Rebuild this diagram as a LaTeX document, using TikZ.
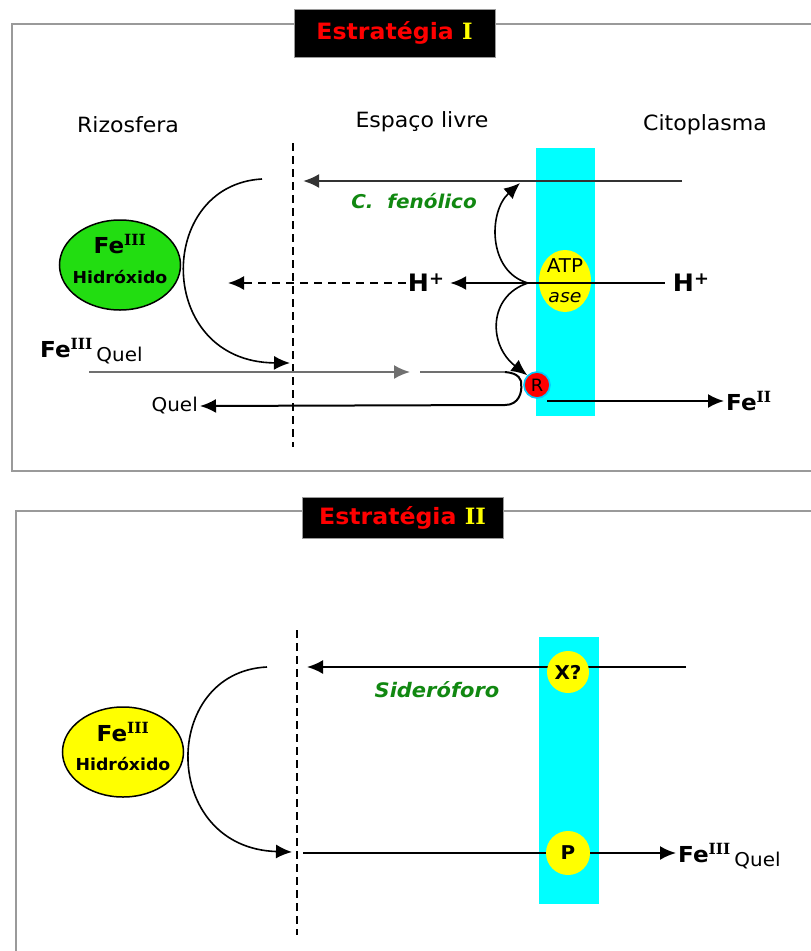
\documentclass[tikz,border=0pt]{standalone}
\usepackage{fontspec}
\setmainfont{DejaVu Sans}[FakeStretch=1.05]
\newfontfamily\romfont{DejaVu Serif}
\usepackage{xcolor}
\definecolor{Membrane}{HTML}{00FFFF}
\definecolor{HydroxGreen}{HTML}{22DD11}
\definecolor{PumpYellow}{HTML}{FFFF00}
\definecolor{LabelGreen}{HTML}{118811}
\definecolor{FrameGray}{HTML}{9A9A9A}
\definecolor{ChelGray}{HTML}{707070}
\definecolor{TitleRed}{HTML}{FF0000}
\usepackage{tikz}
\usetikzlibrary{arrows.meta,positioning,shapes.geometric}
\newcommand\romsup[1]{\textsuperscript{\romfont\bfseries #1}}

\begin{document}
\begin{tikzpicture}[x=1pt,y=-1pt,font=\fontsize{21}{24}\selectfont]
\tikzset{
  panel/.style={draw=FrameGray,line width=2pt},
  titlebox/.style={fill=black,draw=FrameGray,line width=.8pt,minimum width=201pt,inner sep=0pt,
    text=TitleRed,font=\fontsize{22.5}{26}\selectfont\bfseries},
  zone/.style={font=\fontsize{21}{24}\selectfont},
  wall/.style={line width=2.2pt,dash pattern=on 8pt off 5pt},
  membrane/.style={fill=Membrane,inner sep=0pt},
  hydrox/.style={ellipse,draw=black,line width=1.5pt,minimum width=121pt,minimum height=90pt,inner sep=0pt},
  pump/.style={ellipse,fill=PumpYellow,minimum width=52pt,minimum height=62pt,inner sep=0pt},
  carrier/.style={circle,fill=PumpYellow,inner sep=0pt,font=\fontsize{19}{21}\selectfont\bfseries},
  flow/.style={line width=2pt,-{Latex[length=16pt,width=14pt]}},
  link/.style={line width=2pt},
  ion/.style={font=\fontsize{24}{27}\selectfont\bfseries,inner sep=2pt},
  metab/.style={text=LabelGreen,font=\fontsize{19}{22}\selectfont\bfseries\itshape},
  chel/.style={font=\fontsize{19}{22}\selectfont,inner sep=2pt}
}
\useasboundingbox (0,0) rectangle (811,951);

% ---------------- Estrategia I ----------------
\draw[panel] (811,24) -- (12,24) -- (12,471) -- (811,471);
\node[titlebox,minimum height=48pt] (title1) at (394.5,33) {Estratégia\ {\romfont\color{PumpYellow}I}};

\node[zone] (rizo1) at (128,125) {Rizosfera};
\node[zone] (free1) at (422,122) {Espaço livre};
\node[zone] (cyto1) at (705,125) {Citoplasma};

\node[membrane,minimum width=59pt,minimum height=268pt] (mem1) at (565.5,282) {};
\draw[wall] (293,143) -- (293,447);

\node[hydrox,fill=HydroxGreen] (hyd1) at (120,265) {};
\node[font=\fontsize{22}{24}\selectfont\bfseries] (hyd1fe) at (120,244) {Fe\romsup{III}};
\node[font=\fontsize{16.5}{18}\selectfont\bfseries] (hyd1txt) at (120,277) {Hidróxido};

% reduction of the hydroxide towards the wall
\coordinate (arcS1) at (262,179);
\coordinate (arcE1) at (290,363);
\draw[flow,line width=1.6pt] (arcS1) .. controls (155,185) and (155,362) .. (arcE1);

% phenolic compounds
\coordinate (fenR) at (682,181);
\coordinate (fenL) at (303,181);
\draw[flow,draw=black!80,line width=2.4pt] (fenR) -- (fenL);
\node[metab] (fen1) at (414,201) {C.\ \ fenólico};

% proton pump
\node[pump] (atp) at (565,281) {};
\node[font=\fontsize{19}{21}\selectfont] (atptop) at (565,266) {ATP};
\node[font=\fontsize{18}{20}\selectfont\itshape] (atpbot) at (565,298) {ase};
\node[ion] (hR) at (691,283) {H\raisebox{.55ex}{\fontsize{17}{17}\selectfont+}};
\node[ion] (hL) at (426,283) {H\raisebox{.55ex}{\fontsize{17}{17}\selectfont+}};
\draw[flow] ([xshift=-6pt]hR.west) -- ([xshift=4pt]hL.east);
\coordinate (hOut) at (228,283);
\draw[flow,dash pattern=on 8pt off 6pt] (hL.west) -- (hOut);

% reductase
\node[circle,fill=red,draw=Membrane!80!blue,line width=1.6pt,minimum size=26pt,inner sep=0pt,
  font=\fontsize{17}{19}\selectfont] (rec) at (537,385) {R};
\coordinate (pump) at (528,283);
\coordinate (fenTap) at (520,183);
\draw[flow,line width=1.6pt] (pump) .. controls (488,272) and (488,212) .. (fenTap);
\draw[flow,line width=1.6pt] (pump) .. controls (488,296) and (488,345) .. (rec.135);

% chelate in, chelator out
\node[anchor=base west,inner sep=0pt] (feq1) at (40,357)
  {\fontsize{22}{24}\selectfont\bfseries Fe\romsup{III}\,{\fontsize{19}{22}\selectfont\mdseries\raisebox{-4pt}{Quel}}};
\coordinate (qIn) at (89,372);
\coordinate (qMid) at (410,372);
\draw[flow,ChelGray] (qIn) -- (qMid);
\coordinate (qLoop) at (420,372);
\coordinate (loopTop) at (505,372);
\coordinate (loopBot) at (505,405);
\draw[link,ChelGray] (qLoop) -- (loopTop);
\node[chel,anchor=east] (quel1) at (200,406) {Quel};
\draw[link] (loopTop) .. controls (519,373) and (522,380) .. ([xshift=-2pt]rec.west)
  .. controls (522,392) and (519,405) .. (loopBot);
\draw[flow] (loopBot) -- (quel1.east);

\node[ion,anchor=west,font=\fontsize{22}{26}\selectfont\bfseries] (fe2) at (724,401) {Fe\romsup{II}};
\coordinate (recOut) at (547,401);
\draw[flow] (recOut) -- (fe2.west);

% ---------------- Estrategia II ----------------
\draw[panel] (811,511) -- (16,511) -- (16,951);
\node[titlebox,minimum height=41pt] (title2) at (402.5,517.5) {Estratégia\ {\romfont\color{PumpYellow}II}};

\node[membrane,minimum width=60pt,minimum height=267pt] (mem2) at (569,770.5) {};
\draw[wall] (297,630) -- (297,935);

\node[hydrox,fill=PumpYellow] (hyd2) at (123,752) {};
\node[font=\fontsize{22}{24}\selectfont\bfseries] (hyd2fe) at (123,732) {Fe\romsup{III}};
\node[font=\fontsize{16.5}{18}\selectfont\bfseries] (hyd2txt) at (123,764) {Hidróxido};

\coordinate (arcS2) at (267,667);
\coordinate (arcE2) at (292,852);
\draw[flow,line width=1.6pt] (arcS2) .. controls (160,672) and (160,848) .. (arcE2);

% siderophore release
\coordinate (sidR) at (686,667);
\coordinate (sidL) at (307,667);
\draw[flow] (sidR) -- (sidL);
\node[carrier,minimum size=42pt] (xq) at (568,672) {X?};
\node[metab,font=\fontsize{20}{22}\selectfont\bfseries\itshape] (sid2) at (437,690) {Sideróforo};

% chelate uptake
\node[anchor=west,inner sep=2pt] (feq2) at (676,856)
  {\fontsize{22}{24}\selectfont\bfseries Fe\romsup{III}\,{\fontsize{19}{22}\selectfont\mdseries\raisebox{-4pt}{Quel}}};
\coordinate (pIn) at (303,853);
\draw[flow] (pIn) -- (feq2.west |- pIn);
\node[carrier,minimum size=44pt] (pc) at (568,853) {P};
\end{tikzpicture}
\end{document}
